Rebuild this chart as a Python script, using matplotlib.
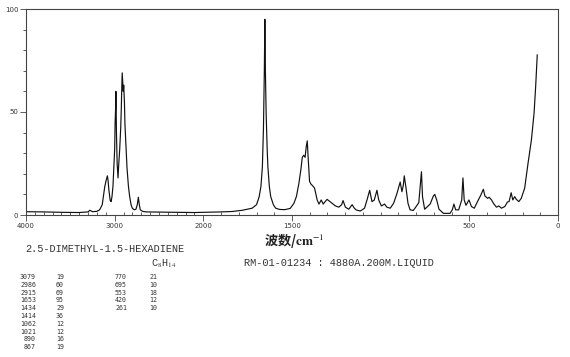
"""Raman spectrum of 2,5-dimethyl-1,5-hexadiene (SDBS-style sheet)."""

import numpy as np
import matplotlib
matplotlib.use("Agg")
import matplotlib.pyplot as plt

# Spectrum trace read from the sheet: wavenumber (cm-1) and relative intensity
wavenumber = [
    4000, 3800, 3600, 3400, 3300, 3280, 3250, 3200, 3170, 3140,
    3112, 3095, 3082, 3075, 3065, 3050, 3040, 3030, 3019, 3008,
    3000, 2995, 2989, 2986, 2980, 2972, 2962, 2955, 2943, 2932,
    2925, 2921, 2915, 2908, 2903, 2898, 2890, 2884, 2872, 2861,
    2845, 2831, 2815, 2801, 2780, 2760, 2745, 2733, 2722, 2711,
    2680, 2643, 2500, 2300, 2100, 2000, 1900, 1837, 1780, 1725,
    1700, 1685, 1675, 1667, 1661, 1656, 1653, 1650, 1646, 1640,
    1636, 1628, 1620, 1605, 1592, 1570, 1540, 1510, 1489, 1475,
    1461, 1450, 1442, 1434, 1426, 1420, 1414, 1409, 1401, 1393,
    1386, 1373, 1365, 1358, 1348, 1335, 1324, 1313, 1302, 1293,
    1274, 1255, 1236, 1220, 1212, 1199, 1180, 1161, 1150, 1139,
    1115, 1091, 1077, 1062, 1049, 1036, 1021, 1011, 996, 978,
    965, 946, 927, 908, 890, 880, 872, 867, 857, 846,
    834, 816, 800, 785, 778, 770, 764, 752, 721, 703,
    695, 684, 671, 646, 609, 596, 587, 577, 560, 543,
    536, 529, 519, 502, 488, 472, 454, 435, 421, 412,
    397, 388, 375, 361, 347, 334, 319, 300, 285, 276,
    264, 255, 244, 235, 221, 207, 188, 169, 150, 135,
    126, 117,
]
intensity = [
    1.6, 1.5, 1.3, 1.2, 1.5, 2.3, 1.6, 1.8, 2.5, 5.0,
    13.7, 17.0, 19.0, 17.0, 12.0, 7.0, 6.5, 9.0, 14.0, 25.0,
    32.0, 45.0, 52.0, 60.0, 40.0, 25.0, 18.0, 24.0, 32.0, 42.0,
    52.0, 60.0, 69.0, 64.0, 60.0, 63.0, 55.0, 44.0, 33.0, 23.0,
    14.0, 9.0, 5.0, 3.3, 2.5, 2.8, 5.0, 8.6, 5.0, 2.5,
    1.7, 1.5, 1.4, 1.3, 1.2, 1.3, 1.5, 1.7, 2.3, 3.3,
    5.0, 8.9, 14.0, 23.5, 42.0, 70.0, 95.0, 70.0, 50.0, 32.0,
    23.5, 14.0, 8.9, 5.0, 3.3, 2.7, 2.6, 3.2, 5.7, 9.0,
    15.4, 22.0, 28.0, 29.0, 28.0, 33.0, 36.0, 28.0, 16.3, 15.0,
    14.4, 13.1, 10.0, 7.3, 5.3, 7.3, 5.3, 6.5, 7.6, 7.0,
    5.7, 4.4, 3.8, 5.0, 7.0, 3.8, 2.8, 5.0, 3.5, 2.5,
    1.9, 3.3, 7.3, 12.0, 6.5, 7.3, 12.0, 7.3, 4.4, 5.3,
    3.8, 3.3, 5.7, 10.5, 16.0, 11.3, 14.6, 19.0, 13.1, 5.7,
    2.5, 2.2, 4.1, 6.0, 13.0, 21.0, 8.9, 2.8, 5.3, 9.2,
    10.0, 7.3, 2.8, 0.8, 0.8, 2.5, 5.3, 2.5, 2.5, 7.3,
    18.0, 7.3, 4.7, 7.3, 4.1, 3.3, 6.5, 9.7, 12.5, 9.2,
    8.1, 8.6, 7.3, 5.3, 3.8, 4.4, 3.3, 4.1, 6.3, 6.5,
    10.8, 7.3, 8.9, 7.6, 6.5, 8.1, 13.0, 25.1, 36.4, 49.4,
    62.3, 77.7,
]

# Peak table printed under the spectrum
peak_wn_1 = [3079, 2986, 2915, 1653, 1434, 1414, 1062, 1021, 890, 867]
peak_int_1 = [19, 60, 69, 95, 29, 36, 12, 12, 16, 19]
peak_wn_2 = [770, 695, 553, 420, 261]
peak_int_2 = [21, 10, 18, 12, 10]

x_ticks = [4000, 3000, 2000, 1500, 500, 0]
y_ticks = [0, 50, 100]

W, H = 570, 357


def fwd(v):
    # the sheet is drawn at half scale above 2000 cm-1
    v = np.asarray(v, dtype=float)
    return np.where(v > 2000, 2000 + (v - 2000) / 2, v)


def inv(u):
    u = np.asarray(u, dtype=float)
    return np.where(u > 2000, 2000 + (u - 2000) * 2, u)


def px(x, y):
    return x / W, 1 - y / H


plt.rcParams["mathtext.fontset"] = "stix"

fig = plt.figure(figsize=(W / 100, H / 100), dpi=100)
ax = fig.add_axes([26 / W, 1 - 215 / H, (558 - 26) / W, (215 - 9) / H])
ax.set_xscale("function", functions=(fwd, inv))
ax.plot(wavenumber, intensity, color="#111111", lw=0.85)
ax.set_xlim(4000, 0)
ax.set_ylim(0, 100)

ax.set_xticks(x_ticks)
ax.set_xticklabels([str(t) for t in x_ticks])
ax.set_xticks(np.arange(0, 4001, 100), minor=True)
ax.set_yticks(y_ticks)
ax.set_yticks(np.arange(0, 101, 10), minor=True)
ax.tick_params(which="major", labelsize=5, length=4, width=0.6,
               color="#444444", labelcolor="#333333", pad=1.5)
ax.tick_params(axis="x", which="minor", direction="in", length=2,
               width=0.6, color="#444444")
ax.tick_params(axis="y", which="minor", direction="out", length=2,
               width=0.6, color="#444444")
for s in ax.spines.values():
    s.set_linewidth(0.8)
    s.set_color("#444444")

# annotation block under the plot
fig.text(*px(294, 241), "波数/$\\mathbf{cm}^{-1}$", fontsize=9.5,
         family=["Noto Sans CJK SC", "DejaVu Sans"], weight="bold",
         ha="center", va="center", color="#222222")
fig.text(*px(25, 249), "2.5-DIMETHYL-1.5-HEXADIENE", fontsize=7.4,
         family="Liberation Mono", ha="left", va="center", color="#333333")
fig.text(*px(151, 264), "C$_8$H$_{14}$", fontsize=7.4,
         family="Liberation Mono", ha="left", va="center", color="#333333")
fig.text(*px(244, 263), "RM-01-01234 : 4880A.200M.LIQUID", fontsize=7.4,
         family="Liberation Mono", ha="left", va="center", color="#333333")

row_h = 7.8
for i, (wn, val) in enumerate(zip(peak_wn_1, peak_int_1)):
    y = 277 + i * row_h
    fig.text(*px(36, y), str(wn), fontsize=4.8, family="DejaVu Sans Mono",
             ha="right", va="center", color="#333333")
    fig.text(*px(56, y), str(val), fontsize=4.8, family="DejaVu Sans Mono",
             ha="left", va="center", color="#333333")
for i, (wn, val) in enumerate(zip(peak_wn_2, peak_int_2)):
    y = 277 + i * row_h
    fig.text(*px(127, y), str(wn), fontsize=4.8, family="DejaVu Sans Mono",
             ha="right", va="center", color="#333333")
    fig.text(*px(149, y), str(val), fontsize=4.8, family="DejaVu Sans Mono",
             ha="left", va="center", color="#333333")

fig.savefig("out.png", dpi=100)
